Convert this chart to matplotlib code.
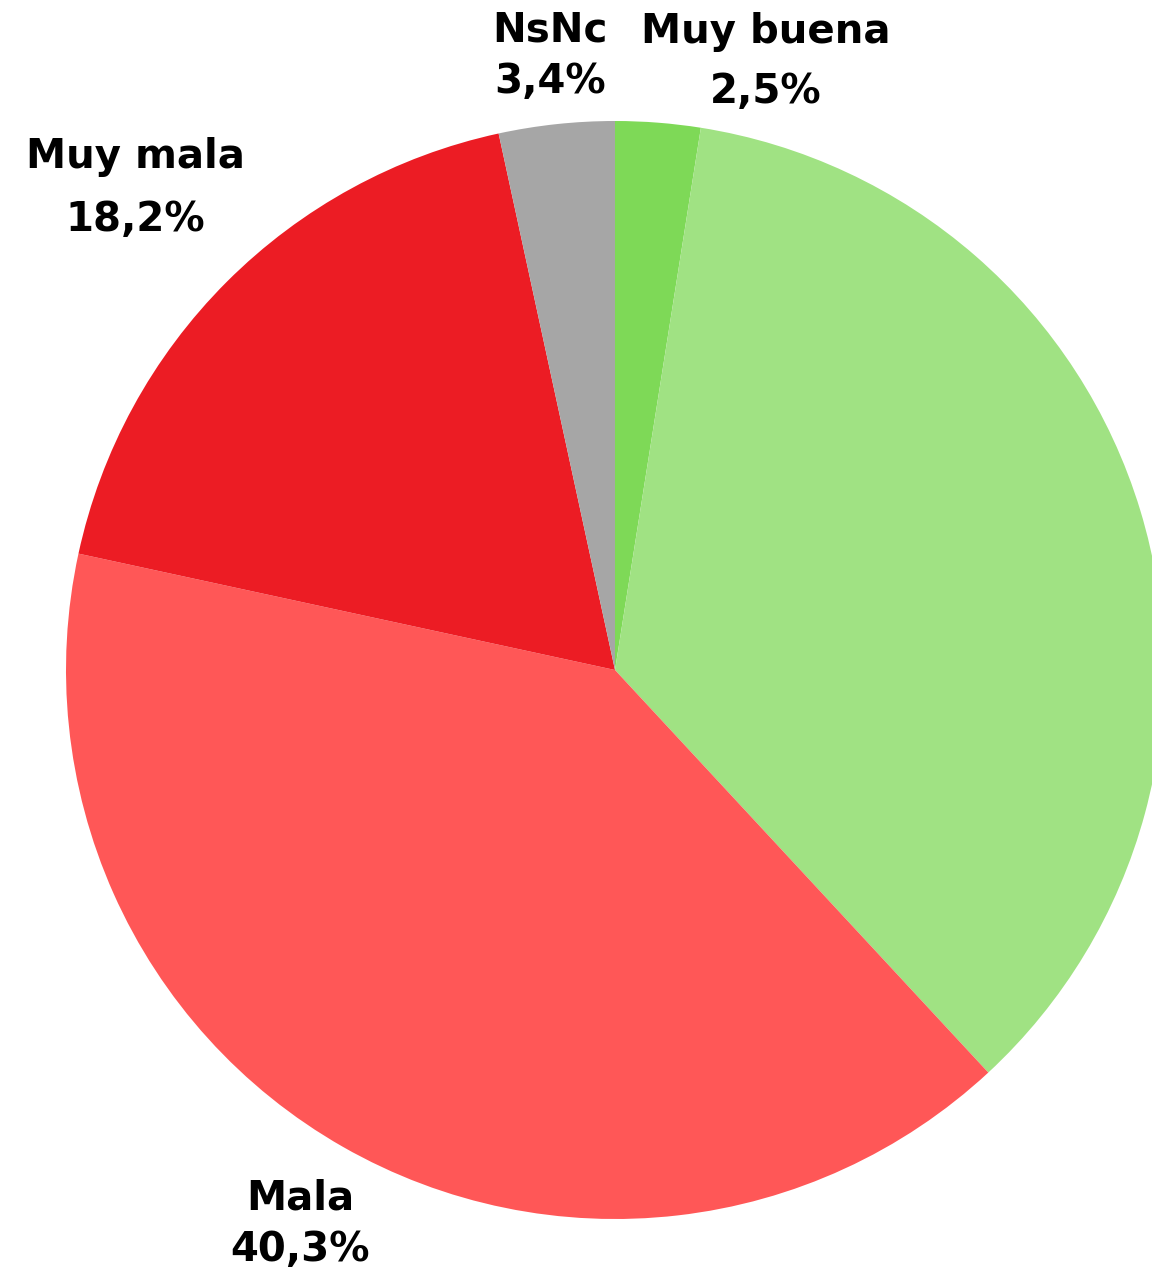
import matplotlib.pyplot as plt

# Datos de la encuesta
categorias = ['Muy buena', 'Buena', 'Mala', 'Muy mala', 'NsNc']
porcentajes = [2.5, 35.6, 40.3, 18.2, 3.4]
colores = ['#7ED957', '#A0E283', '#FF5757', '#EC1C24', '#A6A6A6']

# Posiciones de las etiquetas (en píxeles, desde arriba): nombre y porcentaje
pos_etiquetas = {
    'Muy buena': (766, 32, 92),
    'Mala': (300, 1198, 1250),
    'Muy mala': (135, 157, 220),
    'NsNc': (550, 30, 82),
}

W, H = 1152, 1275
fig = plt.figure(figsize=(W / 100, H / 100), dpi=100)
ax = fig.add_axes([0, 0, 1, 1])

ax.pie(porcentajes, colors=colores, startangle=90, counterclock=False,
       center=(615, H - 670), radius=549, frame=True,
       wedgeprops={'linewidth': 0})
ax.set_xlim(0, W)
ax.set_ylim(0, H)
ax.axis('off')

def fmt(v):
    return f"{v:.1f}".replace('.', ',') + '%'

estilo = dict(ha='center', va='center', fontsize=29, fontweight='bold',
              family='DejaVu Sans', color='black')
for cat, val in zip(categorias, porcentajes):
    if cat not in pos_etiquetas:
        continue
    x, y1, y2 = pos_etiquetas[cat]
    ax.text(x, H - y1, cat, **estilo)
    ax.text(x, H - y2, fmt(val), **estilo)

fig.savefig('out.png', dpi=100)
